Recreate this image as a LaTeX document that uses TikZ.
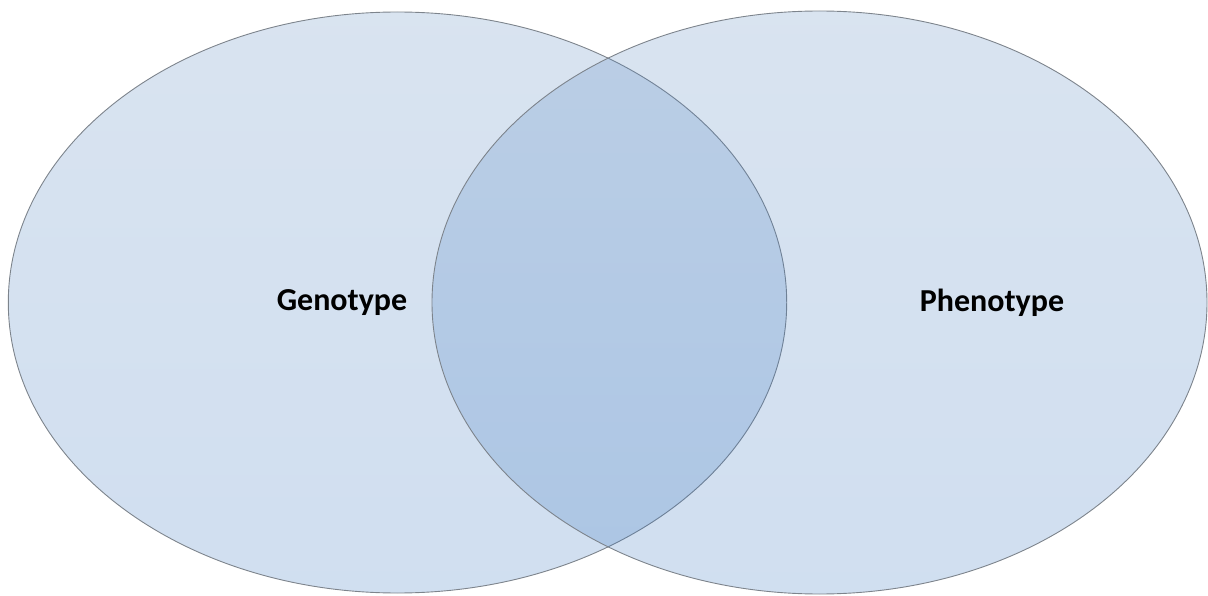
\documentclass[tikz,border=0pt]{standalone}
\usepackage{fontspec}
\setmainfont{Carlito}
\usetikzlibrary{shapes.geometric}
\definecolor{vtop}{RGB}{84,132,190}
\definecolor{vbot}{RGB}{45,110,188}
\definecolor{vline}{RGB}{125,132,140}
\tikzset{
  vset/.style={ellipse, inner sep=0pt, outer sep=0pt, draw=vline, line width=0.9pt,
    top color=vtop, bottom color=vbot, fill opacity=0.225, draw opacity=1},
  vlabel/.style={font=\bfseries\fontsize{32}{38}\selectfont, text=black, inner sep=0pt}
}
\begin{document}
\begin{tikzpicture}[x=1pt,y=-1pt]
\useasboundingbox (0,0) rectangle (1208,596);
\node[vset, minimum width=778.4pt, minimum height=581pt] (geno) at (397.5,302.5) {};
\node[vset, minimum width=775pt, minimum height=583pt] (pheno) at (819.5,302.5) {};
\node[vlabel] (genotxt) at (342,303) {Genotype};
\node[vlabel] (phenotxt) at (992,303) {Phenotype};
\end{tikzpicture}
\end{document}
